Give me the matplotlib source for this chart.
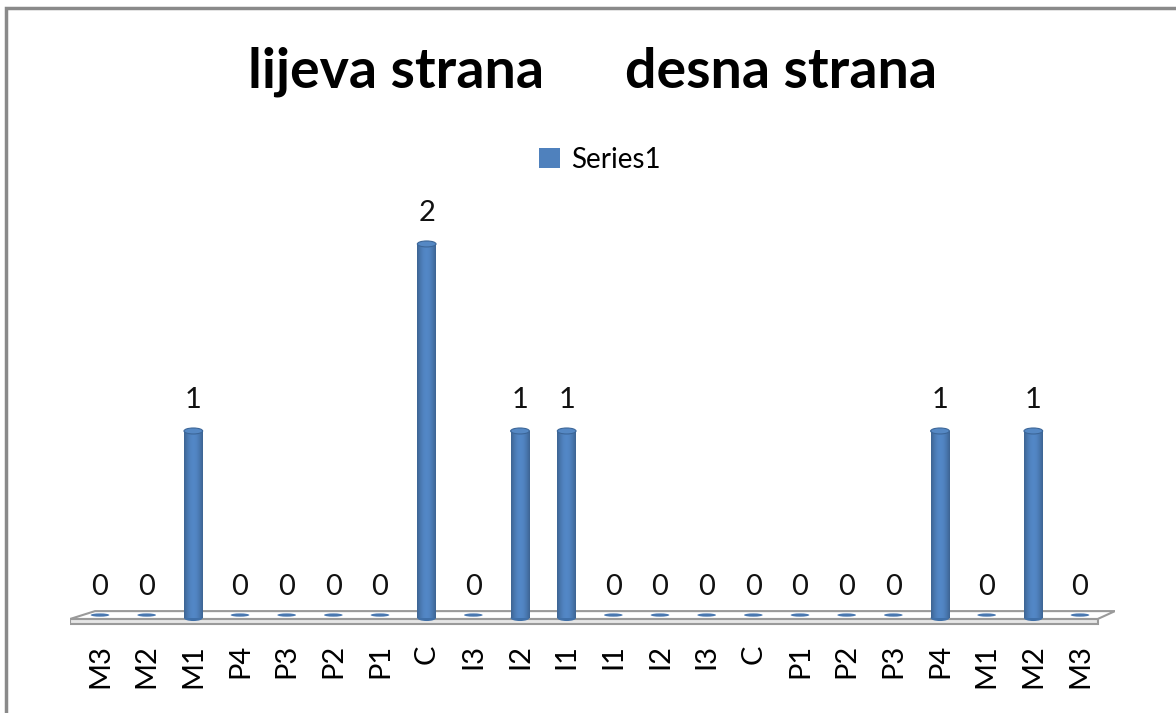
import numpy as np
import matplotlib
matplotlib.use("Agg")
import matplotlib.pyplot as plt
from matplotlib.patches import Ellipse, Polygon, Rectangle, Patch


categories = ["M3", "M2", "M1", "P4", "P3", "P2", "P1", "C", "I3", "I2", "I1",
              "I1", "I2", "I3", "C", "P1", "P2", "P3", "P4", "M1", "M2", "M3"]
values = [0, 0, 1, 0, 0, 0, 0, 2, 0, 1, 1, 0, 0, 0, 0, 0, 0, 0, 1, 0, 1, 0]
series_name = "Series1"
title = "lijeva strana      desna strana"

BAR_COLOR = "#4F81BD"
BAR_W = 0.40
CAP_H = 0.032

plt.rcParams['font.family'] = ['Lato', 'DejaVu Sans']

fig = plt.figure(figsize=(11.76, 7.13), dpi=100)
W, H = 1176, 713

# outer chart border
fig.patches.append(Rectangle((6 / W, -0.01), 1.02, 1 - 8 / H - (-0.01),
                             transform=fig.transFigure, fill=False,
                             edgecolor="#8a8a8a", linewidth=2.5))

ax = fig.add_axes([70 / W, 83 / H, (1115 - 70) / W, (533 - 83) / H])
ax.set_xlim(-0.643, 21.75)
ax.set_ylim(-0.064, 2.342)
ax.set_axis_off()

x = np.arange(len(categories))

# floor slab
top = Polygon([(-0.64, -0.005), (-0.107, 0.037), (21.75, 0.037), (21.38, -0.005)],
              closed=True, facecolor="white", edgecolor="#9a9a9a", lw=1.5, zorder=1)
front = Polygon([(-0.64, -0.005), (21.38, -0.005), (21.38, -0.032), (-0.64, -0.032)],
                closed=True, facecolor="#e6e6e6", edgecolor="#9a9a9a", lw=1.5, zorder=1)
ax.add_patch(front)
ax.add_patch(top)

# horizontal shading across each cylinder
grad = np.linspace(0, 1, 64)
shade = 0.72 + 0.33 * np.sin(np.pi * (grad * 0.9 + 0.05))
rgb = np.array(matplotlib.colors.to_rgb(BAR_COLOR))
img = np.clip(rgb[None, :] * shade[:, None], 0, 1)[None, :, :]

for xi, v in zip(x, values):
    if v > 0:
        rect = Rectangle((xi - BAR_W / 2, 0), BAR_W, v, facecolor="none",
                         edgecolor="none", zorder=3)
        ax.add_patch(rect)
        im = ax.imshow(img, extent=(xi - BAR_W / 2, xi + BAR_W / 2, 0, v),
                       aspect="auto", zorder=3, interpolation="bilinear")
        im.set_clip_path(rect)
        ax.add_patch(Ellipse((xi, 0), BAR_W, CAP_H, facecolor="#3f6fa8",
                             edgecolor="none", zorder=2.9))
        ax.add_patch(Ellipse((xi, v), BAR_W, CAP_H, facecolor="#5588c4",
                             edgecolor="#3c6698", lw=0.8, zorder=4))
    else:
        ax.add_patch(Ellipse((xi, 0.016), BAR_W, CAP_H * 0.55,
                             facecolor="#4a78b0", edgecolor="none", zorder=3))
    ax.annotate(str(v), (xi, v), xytext=(0, 22), textcoords="offset points",
                ha="center", va="center", fontsize=21, color="#111111")

for xi, lab in zip(x, categories):
    ax.text(xi, -0.14, lab, rotation=90, ha="center", va="top",
            fontsize=21, color="black")

fig.text(593 / W, 1 - 72 / H, title, ha="center", va="center",
         fontsize=40, fontweight="bold")

fig.legend(handles=[Patch(facecolor=BAR_COLOR, edgecolor="none", label=series_name)],
           loc="center", bbox_to_anchor=(600 / W, 1 - 160 / H), frameon=False,
           fontsize=20, handlelength=0.75, handleheight=0.75, handletextpad=0.4)

fig.savefig("out.png", dpi=100)
